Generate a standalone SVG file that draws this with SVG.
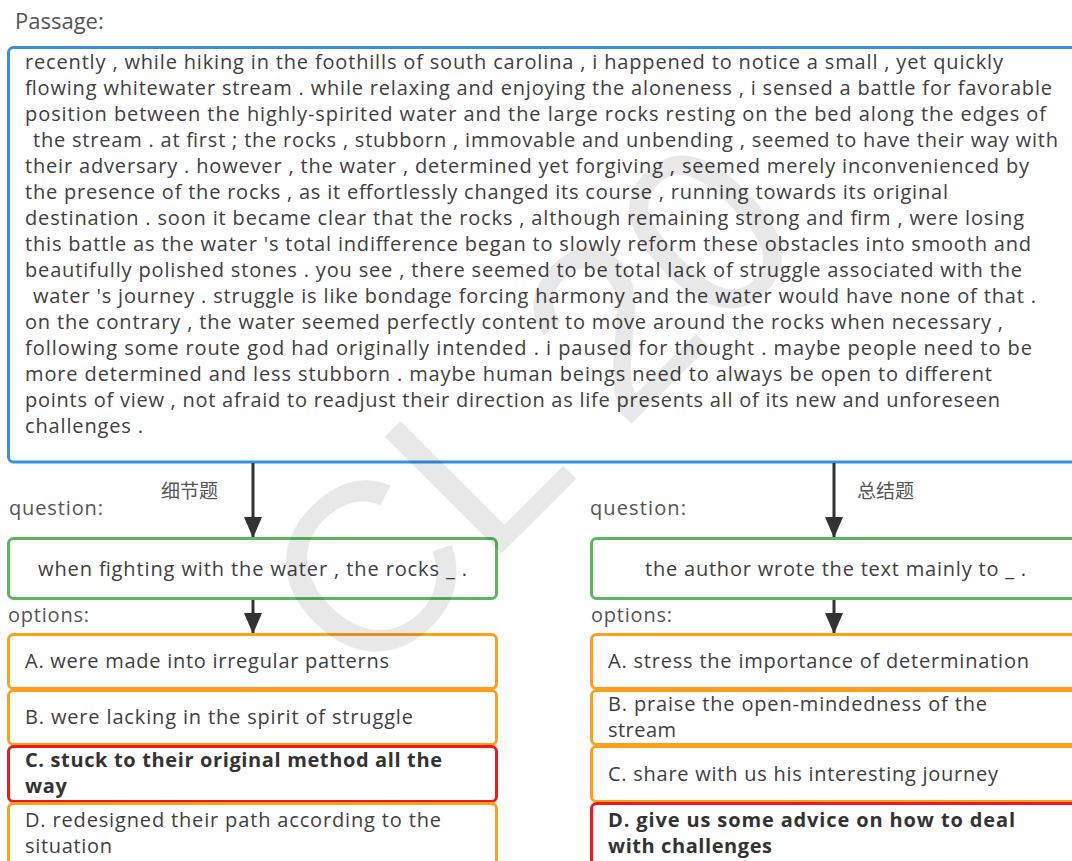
<svg xmlns="http://www.w3.org/2000/svg" width="1072" height="861" viewBox="0 0 1072 861">
<defs>
<marker id="ah" viewBox="0 0 21 18" refX="21" refY="9" markerWidth="21" markerHeight="18" markerUnits="userSpaceOnUse" orient="auto">
<path d="M0,0 L21,9 L0,18 Z" fill="#333"/>
</marker>
<style>
.t{font-family:"Open Sans","Noto Sans","Noto Sans CJK SC",sans-serif;font-size:20px;fill:#404040}
.lbl{font-family:"Open Sans","Noto Sans","Noto Sans CJK SC",sans-serif;font-size:20px;fill:#555}
.cjk{font-family:"Noto Sans CJK SC",sans-serif;font-size:19px;fill:#555}
.b{font-weight:bold;fill:#333}
.pass{fill:#fff;stroke:#3591e8;stroke-width:3}
.q{fill:#fff;stroke:#5cb85c;stroke-width:3}
.o{fill:#fff;stroke:#ff9f1a;stroke-width:3}
.r{fill:#fff;stroke:#f01818;stroke-width:3}
.c{stroke:#333;stroke-width:3;fill:none}
</style>
</defs>
<rect width="1072" height="861" fill="#fff"/>
<text class="lbl" x="15" y="29" font-size="22" style="font-size:22px">Passage:</text>
<g id="passage">
<rect class="pass" x="8.5" y="47.5" width="1080" height="414.5" rx="5"/>
<text class="t" x="25" y="69" textLength="978">recently , while hiking in the foothills of south carolina , i happened to notice a small , yet quickly</text>
<text class="t" x="25" y="95" textLength="1027">flowing whitewater stream . while relaxing and enjoying the aloneness , i sensed a battle for favorable</text>
<text class="t" x="25" y="121" textLength="1021">position between the highly-spirited water and the large rocks resting on the bed along the edges of</text>
<text class="t" x="33" y="147" textLength="1025">the stream . at first ; the rocks , stubborn , immovable and unbending , seemed to have their way with</text>
<text class="t" x="25" y="173" textLength="1004">their adversary . however , the water , determined yet forgiving , seemed merely inconvenienced by</text>
<text class="t" x="25" y="199" textLength="923">the presence of the rocks , as it effortlessly changed its course , running towards its original</text>
<text class="t" x="25" y="225" textLength="999">destination . soon it became clear that the rocks , although remaining strong and firm , were losing</text>
<text class="t" x="25" y="251" textLength="1006">this battle as the water 's total indifference began to slowly reform these obstacles into smooth and</text>
<text class="t" x="25" y="277" textLength="997">beautifully polished stones . you see , there seemed to be total lack of struggle associated with the</text>
<text class="t" x="33" y="303" textLength="1003">water 's journey . struggle is like bondage forcing harmony and the water would have none of that .</text>
<text class="t" x="25" y="329" textLength="978">on the contrary , the water seemed perfectly content to move around the rocks when necessary ,</text>
<text class="t" x="25" y="355" textLength="1007">following some route god had originally intended . i paused for thought . maybe people need to be</text>
<text class="t" x="25" y="381" textLength="967">more determined and less stubborn . maybe human beings need to always be open to different</text>
<text class="t" x="25" y="407" textLength="975">points of view , not afraid to readjust their direction as life presents all of its new and unforeseen</text>
<text class="t" x="25" y="433" textLength="118">challenges .</text>
</g>
<g id="connectors">
<line class="c" x1="253" y1="463" x2="253" y2="538" marker-end="url(#ah)"/>
<line class="c" x1="253" y1="600" x2="253" y2="634" marker-end="url(#ah)"/>
<line class="c" x1="834" y1="463" x2="834" y2="538" marker-end="url(#ah)"/>
<line class="c" x1="834" y1="600" x2="834" y2="634" marker-end="url(#ah)"/>
<text class="cjk" x="161" y="498">细节题</text>
<text class="cjk" x="857" y="498">总结题</text>
</g>
<g id="q-left">
<text class="lbl" x="9" y="515" textLength="94">question:</text>
<rect class="q" x="8.5" y="538.5" width="488" height="60" rx="5"/>
<text class="t" x="38" y="576" textLength="429">when fighting with the water , the rocks _ .</text>
</g>
<g id="q-right">
<text class="lbl" x="590" y="515" textLength="96">question:</text>
<rect class="q" x="591.5" y="538.5" width="488" height="60" rx="5"/>
<text class="t" x="645" y="576" textLength="381">the author wrote the text mainly to _ .</text>
</g>
<text class="lbl" x="8" y="622" textLength="81">options:</text>
<text class="lbl" x="591" y="622" textLength="81">options:</text>
<g id="opt-left-a">
<rect class="o" x="8.5" y="634.5" width="488" height="54" rx="5"/>
<text class="t" x="25" y="668" textLength="364">A. were made into irregular patterns</text>
</g>
<g id="opt-left-b">
<rect class="o" x="8.5" y="690.5" width="488" height="54" rx="5"/>
<text class="t" x="25" y="724" textLength="388">B. were lacking in the spirit of struggle</text>
</g>
<g id="opt-left-c">
<rect class="r" x="8.5" y="746.5" width="488" height="55" rx="5"/>
<text class="t b" x="25" y="767" textLength="417">C. stuck to their original method all the</text>
<text class="t b" x="25" y="793" textLength="42">way</text>
</g>
<g id="opt-left-d">
<rect class="o" x="8.5" y="803.5" width="488" height="70" rx="5"/>
<text class="t" x="25" y="827" textLength="416">D. redesigned their path according to the</text>
<text class="t" x="25" y="853" textLength="87">situation</text>
</g>
<g id="opt-right-a">
<rect class="o" x="591.5" y="634.5" width="488" height="54" rx="5"/>
<text class="t" x="608" y="668" textLength="421">A. stress the importance of determination</text>
</g>
<g id="opt-right-b">
<rect class="o" x="591.5" y="690.5" width="488" height="54" rx="5"/>
<text class="t" x="608" y="711" textLength="379">B. praise the open-mindedness of the</text>
<text class="t" x="608" y="737" textLength="68">stream</text>
</g>
<g id="opt-right-c">
<rect class="o" x="591.5" y="746.5" width="488" height="55" rx="5"/>
<text class="t" x="608" y="781" textLength="390">C. share with us his interesting journey</text>
</g>
<g id="opt-right-d">
<rect class="r" x="591.5" y="803.5" width="488" height="70" rx="5"/>
<text class="t b" x="608" y="827" textLength="407">D. give us some advice on how to deal</text>
<text class="t b" x="608" y="853" textLength="164">with challenges</text>
</g>
<text x="0" y="0" transform="translate(365,690) rotate(-45)" font-family="Liberation Sans, sans-serif" font-size="240" fill="#000" fill-opacity="0.09">CL 20</text>
</svg>
